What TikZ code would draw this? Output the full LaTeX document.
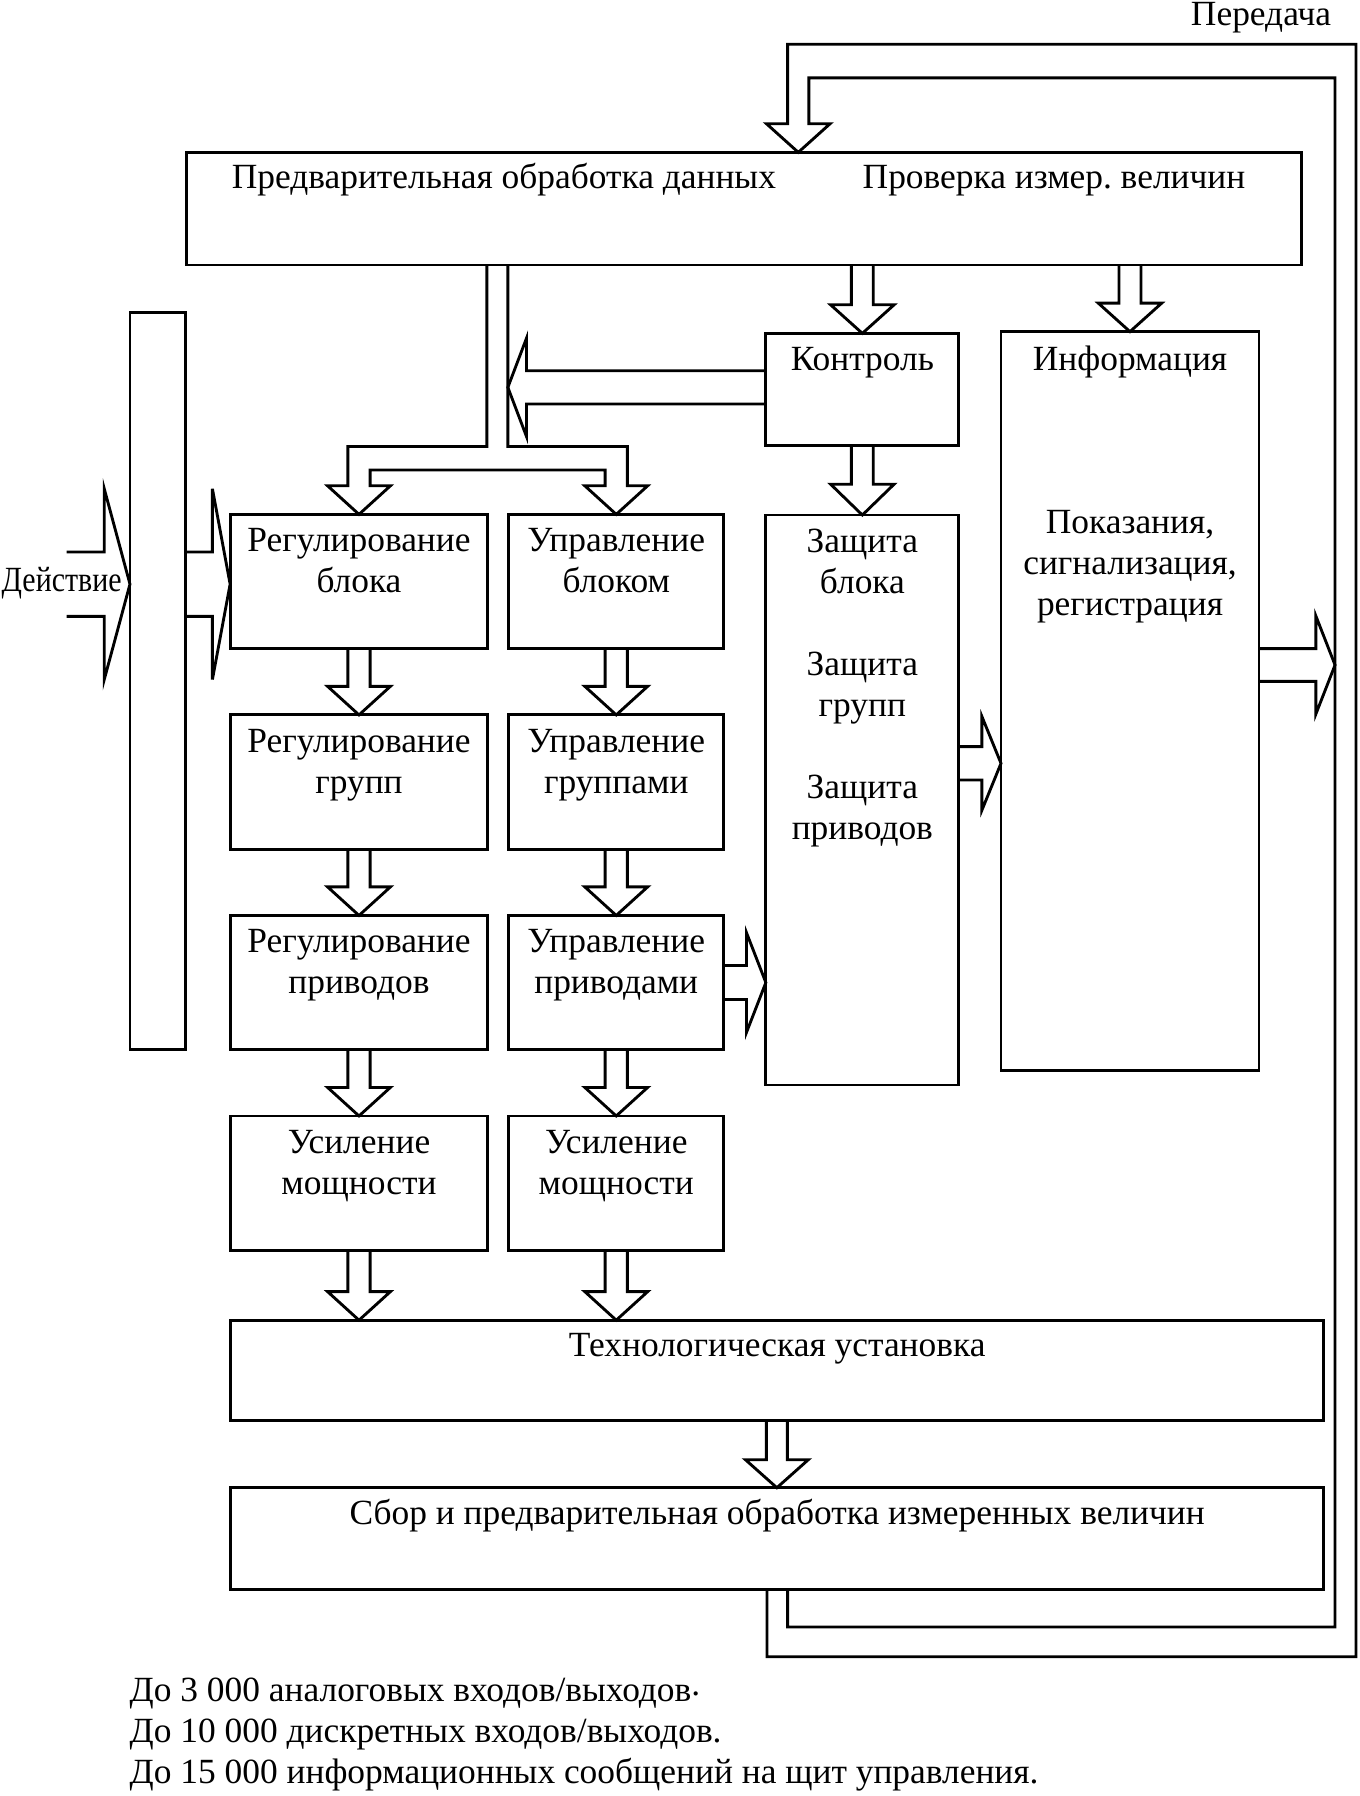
\documentclass[tikz,border=0pt]{standalone}
\usepackage{fontspec}
\setmainfont{Liberation Serif}
\usepackage{graphicx}
\usetikzlibrary{calc}
\frenchspacing
\tikzset{
  box/.style={draw, line width=2.5pt, inner sep=0pt, outer sep=0pt, anchor=north west},
  txt/.style={inner sep=0pt, outer sep=0pt, font=\fontsize{31}{36}\selectfont},
  arr/.style={draw, line width=2.5pt, line join=miter, miter limit=10},
}
% vertical block arrow: #1 start point, #2 tip point, #3 point giving x, #4 stem half, #5 head half, #6 head length
\newcommand{\varrow}[6]{\draw[arr] let \p1=#1, \p2=#2, \p3=#3 in
  ({\x3-#4},{\y1}) -- ({\x3-#4},{\y2+#6}) -- ({\x3-#5},{\y2+#6}) -- ({\x3},{\y2}) -- ({\x3+#5},{\y2+#6}) -- ({\x3+#4},{\y2+#6}) -- ({\x3+#4},{\y1});}
% horizontal block arrow: #1 start point, #2 tip point, #3 point giving y, #4 stem half, #5 head half, #6 head length (signed)
\newcommand{\harrow}[6]{\draw[arr] let \p1=#1, \p2=#2, \p3=#3 in
  ({\x1},{\y3+#4}) -- ({\x2-(#6)},{\y3+#4}) -- ({\x2-(#6)},{\y3+#5}) -- ({\x2},{\y3}) -- ({\x2-(#6)},{\y3-#5}) -- ({\x2-(#6)},{\y3-#4}) -- ({\x1},{\y3-#4});}
\begin{document}
\begin{tikzpicture}[x=1pt, y=-1pt]
\useasboundingbox (0,0) rectangle (1190,1572.65);

% ---------- boxes ----------
\node[box, minimum width=976.6pt, minimum height=98.6pt] (top) at (163,133.4) {};
\node[box, minimum width=48.8pt, minimum height=645.6pt] (tall) at (113.8,273.4) {};
\node[box, minimum width=169pt, minimum height=98.3pt] (ctrl) at (670.6,291.9) {};
\node[box, minimum width=225.9pt, minimum height=646.6pt] (info) at (876.5,290.4) {};
\node[box, minimum width=169pt, minimum height=499pt] (prot) at (670.6,451) {};
\node[box, minimum width=225.7pt, minimum height=117.5pt] (r1) at (201.5,450.4) {};
\node[box, minimum width=225.7pt, minimum height=117.5pt] (r2) at (201.5,626) {};
\node[box, minimum width=225.7pt, minimum height=117.5pt] (r3) at (201.5,801.6) {};
\node[box, minimum width=225.7pt, minimum height=117.5pt] (r4) at (201.5,977.2) {};
\node[box, minimum width=188pt, minimum height=117.5pt] (u1) at (445.6,450.4) {};
\node[box, minimum width=188pt, minimum height=117.5pt] (u2) at (445.6,626) {};
\node[box, minimum width=188pt, minimum height=117.5pt] (u3) at (445.6,801.6) {};
\node[box, minimum width=188pt, minimum height=117.5pt] (u4) at (445.6,977.2) {};
\node[box, minimum width=957.5pt, minimum height=88pt] (tech) at (201.5,1156) {};
\node[box, minimum width=957.5pt, minimum height=89pt] (sbor) at (201.5,1302.7) {};

% ---------- texts ----------
\node[txt, anchor=base east] (tper) at (1165.5,22) {Передача};
\node[txt, anchor=base west] (tpre) at (203,165) {Предварительная обработка данных};
\node[txt, anchor=base west] (tprov) at (755.4,165) {Проверка измер. величин};
\node[txt, anchor=base] (tctrl) at (755.1,324.5) {Контроль};
\node[txt, anchor=base] (tinfo) at (989.5,324) {Информация};
\node[txt, anchor=base] (tinfo1) at (989.5,467) {Показания,};
\node[txt, anchor=base] (tinfo2) at (989.5,503) {сигнализация,};
\node[txt, anchor=base] (tinfo3) at (989.5,539) {регистрация};
\node[txt, anchor=base] (tp1) at (755.1,483.5) {Защита};
\node[txt, anchor=base] (tp2) at (755.1,519.5) {блока};
\node[txt, anchor=base] (tp3) at (755.1,591.5) {Защита};
\node[txt, anchor=base] (tp4) at (755.1,627.5) {групп};
\node[txt, anchor=base] (tp5) at (755.1,699.5) {Защита};
\node[txt, anchor=base] (tp6) at (755.1,735.5) {приводов};
\node[txt, anchor=base] (tr1a) at (314.35,483) {Регулирование};
\node[txt, anchor=base] (tr1b) at (314.35,519) {блока};
\node[txt, anchor=base] (tr2a) at (314.35,658.6) {Регулирование};
\node[txt, anchor=base] (tr2b) at (314.35,694.6) {групп};
\node[txt, anchor=base] (tr3a) at (314.35,834.2) {Регулирование};
\node[txt, anchor=base] (tr3b) at (314.35,870.2) {приводов};
\node[txt, anchor=base] (tr4a) at (314.35,1009.8) {Усиление};
\node[txt, anchor=base] (tr4b) at (314.35,1045.8) {мощности};
\node[txt, anchor=base] (tu1a) at (539.6,483) {Управление};
\node[txt, anchor=base] (tu1b) at (539.6,519) {блоком};
\node[txt, anchor=base] (tu2a) at (539.6,658.6) {Управление};
\node[txt, anchor=base] (tu2b) at (539.6,694.6) {группами};
\node[txt, anchor=base] (tu3a) at (539.6,834.2) {Управление};
\node[txt, anchor=base] (tu3b) at (539.6,870.2) {приводами};
\node[txt, anchor=base] (tu4a) at (539.6,1009.8) {Усиление};
\node[txt, anchor=base] (tu4b) at (539.6,1045.8) {мощности};
\node[txt, anchor=base] (ttech) at (680.5,1188) {Технологическая установка};
\node[txt, anchor=base] (tsbor) at (680.5,1335) {Сбор и предварительная обработка измеренных величин};
\node[txt, anchor=base] (tact) at (54,518) {\resizebox{105pt}{\height}{Действие}};
\node[txt, anchor=base west] (n1) at (113.6,1490) {До 3 000 аналоговых входов/выходов\raisebox{5pt}{.}};
\node[txt, anchor=base west] (n2) at (113.6,1526) {До 10 000 дискретных входов/выходов.};
\node[txt, anchor=base west] (n3) at (113.6,1562) {До 15 000 информационных сообщений на щит управления.};

% ---------- helper coordinates ----------
\coordinate (busB) at (444.7,339.2);
\coordinate (pcy) at (857,668.4);
\coordinate (loopIn) at (1169,582.3);
\coordinate (actL) at (58.4,511.5);

% ---------- feedback loop (Передача) ----------
\draw[arr] (sbor.south -| 671.6,0) -- (671.6,1450.7) -- (1187.4,1450.7) -- (1187.4,38.8)
  -- (689.7,38.8) -- (689.7,108.4) -- (671.2,108.4) -- (top.north -| 699,0)
  -- (726.8,108.4) -- (708.3,108.4) -- (708.3,68.2) -- (1169,68.2) -- (1169,1424.7)
  -- (689.7,1424.7) -- (sbor.south -| 689.7,0);

% ---------- distribution from top box to the two columns ----------
\draw[arr] (top.south -| 426.3,0) -- (426.3,391) -- (304.6,391) -- (304.6,425.4) -- (286.85,425.4)
  -- (r1.north) -- (341.85,425.4) -- (324.1,425.4) -- (324.1,411.6) -- (529.85,411.6)
  -- (529.85,425.4) -- (512.1,425.4) -- (u1.north) -- (567.1,425.4) -- (549.35,425.4)
  -- (549.35,391) -- (444.7,391) -- (top.south -| 444.7,0);

% ---------- vertical arrows ----------
\varrow{(top.south)}{(ctrl.north)}{(ctrl.north)}{9.6pt}{27.8pt}{25pt}
\varrow{(top.south)}{(info.north)}{(info.north)}{9.6pt}{27.8pt}{25pt}
\varrow{(ctrl.south)}{(prot.north)}{(prot.north)}{9.6pt}{27.8pt}{27pt}
\varrow{(r1.south)}{(r2.north)}{(r2.north)}{9.75pt}{27.5pt}{25pt}
\varrow{(r2.south)}{(r3.north)}{(r3.north)}{9.75pt}{27.5pt}{25pt}
\varrow{(r3.south)}{(r4.north)}{(r4.north)}{9.75pt}{27.5pt}{25pt}
\varrow{(r4.south)}{(tech.north)}{(r4.south)}{9.75pt}{27.5pt}{25pt}
\varrow{(u1.south)}{(u2.north)}{(u2.north)}{9.75pt}{27.5pt}{25pt}
\varrow{(u2.south)}{(u3.north)}{(u3.north)}{9.75pt}{27.5pt}{25pt}
\varrow{(u3.south)}{(u4.north)}{(u4.north)}{9.75pt}{27.5pt}{25pt}
\varrow{(u4.south)}{(tech.north)}{(u4.south)}{9.75pt}{27.5pt}{25pt}
\varrow{(tech.south)}{(sbor.north)}{(tech.south)}{9.2pt}{27.5pt}{24.5pt}

% ---------- horizontal arrows ----------
\harrow{(ctrl.west)}{(busB)}{(busB)}{14.6pt}{43pt}{-16.3pt}
\harrow{(u3.east)}{(prot.west)}{(u3.east)}{14.9pt}{43.8pt}{17pt}
\harrow{(prot.east)}{(info.west)}{(pcy)}{14.6pt}{41pt}{16.7pt}
\harrow{(info.east)}{(loopIn)}{(loopIn)}{14.3pt}{43pt}{16.8pt}
\harrow{(actL)}{(tall.west)}{(actL)}{28.2pt}{83.5pt}{22.5pt}
\harrow{(tall.east)}{(r1.west)}{(actL)}{28.2pt}{83.5pt}{15.5pt}
\end{tikzpicture}
\end{document}
